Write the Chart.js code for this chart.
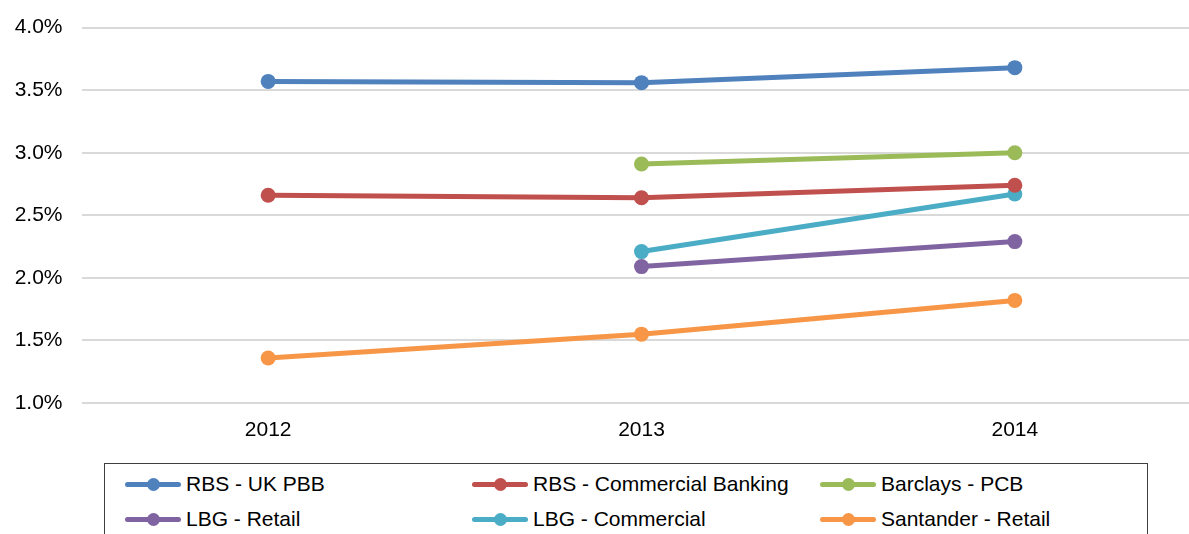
<!DOCTYPE html>
<html>
<head>
<meta charset="utf-8">
<script src="https://cdn.jsdelivr.net/npm/chart.js@4"></script>
<style>
  html, body { margin: 0; padding: 0; background: #fff; overflow: hidden; }
  body { width: 1189px; height: 534px; position: relative; font-family: "Liberation Sans", Arial, sans-serif; }
  #wrap { position: absolute; left: 0; top: -4px; width: 1209px; height: 449px; }
  #legend {
    position: absolute; left: 104px; top: 463px; width: 1044px; height: 90px;
    border: 1px solid #3f3f3f; box-sizing: border-box;
  }
  .item { position: absolute; height: 30px; display: flex; align-items: center; font-size: 21px; color: #000; }
  .mark { position: relative; width: 56px; height: 5px; border-radius: 3px; margin-right: 5px; }
  .dot { position: absolute; left: 22px; top: -4px; width: 13px; height: 13px; border-radius: 50%; }
</style>
</head>
<body>
<div id="wrap"><canvas id="chart"></canvas></div>
<div id="legend"></div>
<script>
  const years = ["2012", "2013", "2014"];
  const seriesNames = [
    "RBS - UK PBB",
    "RBS - Commercial Banking",
    "Barclays - PCB",
    "LBG - Retail",
    "LBG - Commercial",
    "Santander - Retail"
  ];
  const rbsUkPbb = [3.57, 3.56, 3.68];
  const rbsCommercial = [2.66, 2.64, 2.74];
  const barclaysPcb = [null, 2.91, 3.0];
  const lbgRetail = [null, 2.09, 2.29];
  const lbgCommercial = [null, 2.21, 2.67];
  const santanderRetail = [1.36, 1.55, 1.82];
  const colours = ["#4F81BD", "#C0504D", "#9BBB59", "#8064A2", "#4BACC6", "#F79646"];

  const allValues = [rbsUkPbb, rbsCommercial, barclaysPcb, lbgRetail, lbgCommercial, santanderRetail];

  Chart.defaults.font.family = '"Liberation Sans", Arial, sans-serif';
  Chart.defaults.color = "#000";

  let ctx = document.getElementById("chart").getContext("2d");
  let chart = new Chart(ctx, {
    type: "line",
    data: {
      labels: years,
      datasets: allValues.map((vals, i) => ({
        label: seriesNames[i],
        data: vals,
        borderColor: colours[i],
        backgroundColor: colours[i],
        borderWidth: 5,
        pointRadius: 7.5,
        pointHoverRadius: 7.5,
        pointBorderWidth: 0,
        tension: 0,
        spanGaps: false
      }))
    },
    options: {
      responsive: true,
      maintainAspectRatio: false,
      animation: false,
      events: [],
      layout: { padding: { top: 22, left: 0, right: 0, bottom: 0 } },
      plugins: { legend: { display: false }, tooltip: { enabled: false } },
      scales: {
        x: {
          offset: true,
          grid: { display: false, drawTicks: false },
          border: { display: false },
          ticks: { font: { size: 21 }, padding: 15 },
          afterFit: (scale) => { scale.height = 42; }
        },
        y: {
          min: 1.0,
          max: 4.0,
          grid: { color: "#d9d9d9", lineWidth: 2, drawTicks: false },
          border: { display: false },
          ticks: {
            stepSize: 0.5,
            font: { size: 21 },
            padding: 19,
            callback: (v) => v.toFixed(1) + "%"
          },
          afterFit: (scale) => { scale.width = 81.5; }
        }
      }
    }
  });

  makeLegend();

  function makeLegend() {
    const legend = document.getElementById("legend");
    const colLeft = [20, 367, 715];
    const rowTop = [5, 40];
    chart.data.datasets.forEach((ds, i) => {
      const item = document.createElement("div");
      item.className = "item";
      item.style.left = colLeft[i % 3] + "px";
      item.style.top = rowTop[Math.floor(i / 3)] + "px";
      const mark = document.createElement("span");
      mark.className = "mark";
      mark.style.background = ds.borderColor;
      const dot = document.createElement("span");
      dot.className = "dot";
      dot.style.background = ds.borderColor;
      mark.appendChild(dot);
      const text = document.createElement("span");
      text.textContent = ds.label;
      item.appendChild(mark);
      item.appendChild(text);
      legend.appendChild(item);
    });
  }
</script>
</body>
</html>
